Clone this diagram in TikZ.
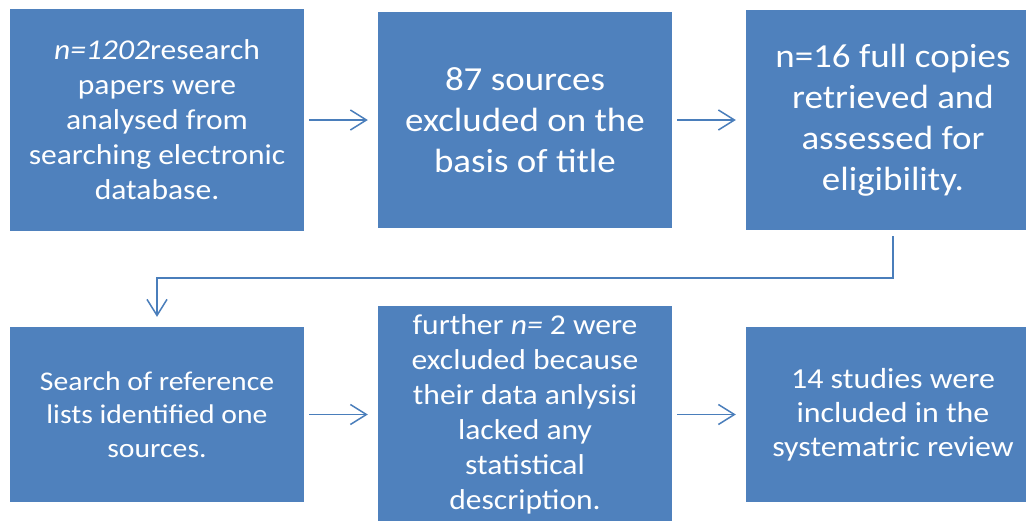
\documentclass[tikz,border=0pt]{standalone}
\usepackage{fontspec}
\setmainfont[FakeStretch=1.1]{Carlito}
\usetikzlibrary{arrows.meta}
\definecolor{boxblue}{HTML}{4F81BD}
\definecolor{arrblue}{HTML}{4A7EBB}
\tikzset{
  flowbox/.style={fill=boxblue, draw=none, text=white, align=center, inner sep=0pt, minimum width=294pt},
  arr/.style={draw=arrblue, line width=1.5pt, -{Straight Barb[length=16pt,width=20pt,line width=1.5pt]}, shorten <=5pt, shorten >=10pt},
}
\begin{document}
\begin{tikzpicture}[x=1pt,y=-1pt]
\useasboundingbox (0,0) rectangle (1026,520);
\clip (0,0) rectangle (1026,520);
\fill[white] (0,0) rectangle (1026,520);
\node[flowbox, minimum height=222pt, font=\fontsize{28.7}{35}\selectfont] (b1) at (157,120)
  {\textit{n=1202}research\\papers were\\analysed from\\searching electronic\\database.};
\node[flowbox, minimum height=216pt, font=\fontsize{33.6}{41}\selectfont] (b2) at (525,120)
  {87 sources\\excluded on the\\basis of title};
\node[flowbox, minimum height=220pt, font=\fontsize{33.6}{41}\selectfont] (b3) at (893,120)
  {n=16 full copies\\retrieved and\\assessed for\\eligibility.};
\node[flowbox, minimum height=175pt, font=\fontsize{27}{33.3}\selectfont] (b4) at (157,414.5)
  {Search of reference\\lists identified one\\sources.};
\node[flowbox, minimum height=216pt, font=\fontsize{28.7}{35}\selectfont] (b5) at (525,414)
  {further \textit{n=} 2 were\\excluded because\\their data anlysisi\\lacked any\\statistical\\description.};
\node[flowbox, minimum height=175pt, font=\fontsize{29}{34}\selectfont] (b6) at (893,414.5)
  {14 studies were\\included in the\\systematric review};
\draw[arr] (b1.east) -- (b1.east -| b2.west);
\draw[arr] (b2.east) -- (b2.east -| b3.west);
\draw[arr, shorten <=6pt] (b3.south) -- ++(0,48) -| (b4.north);
\draw[arr] (b4.east) -- (b4.east -| b5.west);
\draw[arr] (b5.east -| b5.east) ++(0,0.5) coordinate (s5) (s5) -- (s5 -| b6.west);
\end{tikzpicture}
\end{document}
